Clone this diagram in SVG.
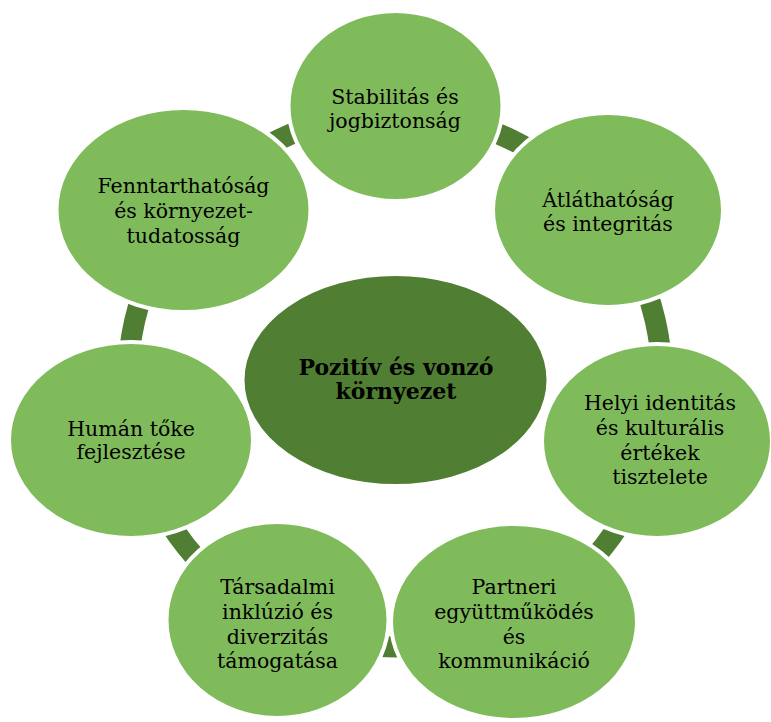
<svg xmlns="http://www.w3.org/2000/svg" width="771" height="722" viewBox="0 0 771 722">
<style>
.ring{fill:none;stroke:#507E32;stroke-width:21;stroke-linecap:butt}
.node{fill:#80BB5B;stroke:#ffffff;stroke-width:4}
.hub{fill:#507E32;stroke:#ffffff;stroke-width:4}
.t{font-family:"DejaVu Serif","Liberation Serif",serif;font-size:20.5px;fill:#000;text-anchor:middle}
.tb{font-family:"DejaVu Serif","Liberation Serif",serif;font-size:22px;font-weight:bold;fill:#000;text-anchor:middle}
</style>
<rect width="771" height="722" fill="#ffffff"/>
<g id="connectors">
<path class="ring" d="M395,113 A267,267 0 0 1 603.7,213.5"/>
<path class="ring" d="M603.7,213.5 A267,267 0 0 1 655.3,439.4"/>
<path class="ring" d="M655.3,439.4 A267,267 0 0 1 510.9,620.6"/>
<path class="ring" d="M510.9,620.6 A267,267 0 0 1 279.1,620.6"/>
<path class="ring" d="M279.1,620.6 A267,267 0 0 1 134.7,439.4"/>
<path class="ring" d="M134.7,439.4 A267,267 0 0 1 186.3,213.5"/>
<path class="ring" d="M186.3,213.5 A267,267 0 0 1 395,113"/>
</g>
<g id="hub">
<ellipse class="hub" cx="395.5" cy="380" rx="153" ry="106"/>
<text class="tb" x="396" y="375">Pozitív és vonzó</text>
<text class="tb" x="396" y="399">környezet</text>
</g>
<g id="node-stabilitas">
<ellipse class="node" cx="395.5" cy="106" rx="107" ry="95"/>
<text class="t" x="395" y="104">Stabilitás és</text>
<text class="t" x="395" y="128">jogbiztonság</text>
</g>
<g id="node-atlathatosag">
<ellipse class="node" cx="608" cy="210" rx="115" ry="97"/>
<text class="t" x="608" y="207">Átláthatóság</text>
<text class="t" x="608" y="231">és integritás</text>
</g>
<g id="node-helyi">
<ellipse class="node" cx="657" cy="441" rx="115" ry="97"/>
<text class="t" x="660" y="410">Helyi identitás</text>
<text class="t" x="660" y="435">és kulturális</text>
<text class="t" x="660" y="460">értékek</text>
<text class="t" x="660" y="484">tisztelete</text>
</g>
<g id="node-partneri">
<ellipse class="node" cx="514" cy="622" rx="123" ry="98"/>
<text class="t" x="514" y="594">Partneri</text>
<text class="t" x="514" y="619">együttműködés</text>
<text class="t" x="514" y="644">és</text>
<text class="t" x="514" y="668">kommunikáció</text>
</g>
<g id="node-tarsadalmi">
<ellipse class="node" cx="277.5" cy="620" rx="111" ry="98"/>
<text class="t" x="277.5" y="594">Társadalmi</text>
<text class="t" x="277.5" y="619">inklúzió és</text>
<text class="t" x="277.5" y="644">diverzitás</text>
<text class="t" x="277.5" y="668">támogatása</text>
</g>
<g id="node-human">
<ellipse class="node" cx="131" cy="440" rx="122" ry="98"/>
<text class="t" x="131" y="436">Humán tőke</text>
<text class="t" x="131" y="459">fejlesztése</text>
</g>
<g id="node-fenntarthatosag">
<ellipse class="node" cx="183.5" cy="210" rx="127" ry="102"/>
<text class="t" x="183.5" y="193">Fenntarthatóság</text>
<text class="t" x="183.5" y="218">és környezet-</text>
<text class="t" x="183.5" y="243">tudatosság</text>
</g>
</svg>
